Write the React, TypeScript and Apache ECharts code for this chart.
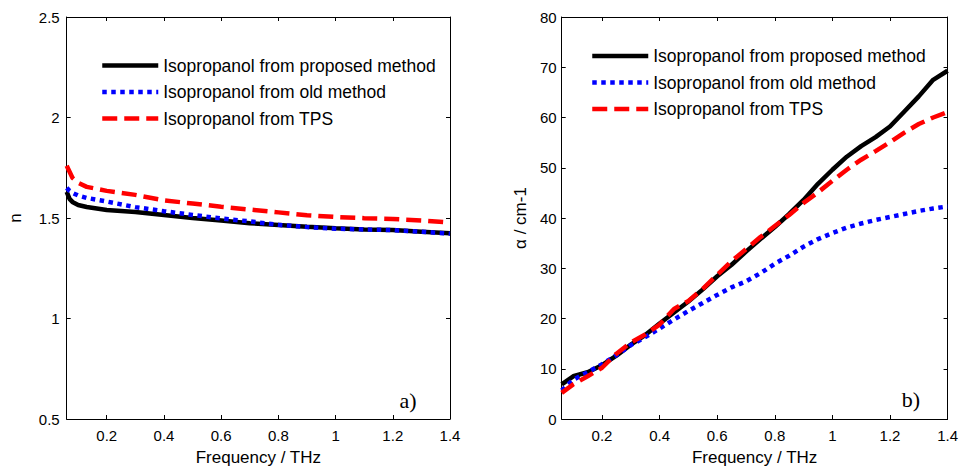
import React, { useEffect, useRef } from "react";
import * as echarts from "echarts";

// ---- data ----
const freqN = [0.06, 0.07, 0.08, 0.1, 0.13, 0.2, 0.3, 0.4, 0.5, 0.6, 0.7, 0.8, 0.9, 1.0, 1.1, 1.2, 1.3, 1.4];
const nProposed = [1.63, 1.595, 1.58, 1.565, 1.555, 1.54, 1.53, 1.515, 1.5, 1.487, 1.474, 1.465, 1.456, 1.449, 1.443, 1.44, 1.432, 1.424];
const nOld = [1.65, 1.635, 1.625, 1.612, 1.6, 1.582, 1.554, 1.534, 1.515, 1.498, 1.483, 1.466, 1.455, 1.447, 1.443, 1.44, 1.432, 1.422];
const nTPS = [1.76, 1.73, 1.7, 1.675, 1.655, 1.635, 1.615, 1.588, 1.572, 1.556, 1.542, 1.528, 1.514, 1.505, 1.499, 1.495, 1.488, 1.478];

const freqA = [0.06, 0.1, 0.15, 0.2, 0.25, 0.3, 0.35, 0.4, 0.45, 0.5, 0.55, 0.6, 0.65, 0.7, 0.75, 0.8, 0.85, 0.9, 0.95, 1.0, 1.05, 1.1, 1.15, 1.2, 1.25, 1.3, 1.35, 1.4];
const aProposed = [6.9, 8.5, 9.3, 10.7, 12.6, 14.8, 16.7, 19.0, 21.2, 23.4, 25.8, 28.4, 30.7, 33.3, 35.8, 38.2, 40.8, 43.6, 46.8, 49.6, 52.2, 54.3, 56.1, 58.2, 61.2, 64.2, 67.5, 69.3];
const aOld = [5.7, 7.8, 9.3, 10.9, 12.7, 14.7, 16.3, 18.0, 19.8, 21.5, 23.1, 24.7, 26.2, 27.4, 29.0, 30.9, 32.5, 34.3, 35.8, 37.0, 38.1, 38.9, 39.6, 40.2, 40.8, 41.4, 41.9, 42.3];
const aTPS = [5.2, 6.9, 8.5, 10.2, 13.0, 15.2, 16.8, 18.8, 21.9, 23.5, 25.9, 28.7, 31.4, 33.8, 36.2, 38.4, 40.6, 43.0, 45.1, 47.4, 49.6, 51.6, 53.3, 55.1, 57.0, 58.7, 60.0, 61.1];

const freqTicks = [0.2, 0.4, 0.6, 0.8, 1, 1.2, 1.4];
const nTicks = [0.5, 1, 1.5, 2, 2.5];
const alphaTicks = [0, 10, 20, 30, 40, 50, 60, 70, 80];
const seriesNames = ["Isopropanol from proposed method", "Isopropanol from old method", "Isopropanol from TPS"];
const panelLabels = ["a)", "b)"];
const xName = "Frequency / THz";
const yNames = ["n", "α / cm-1"];

const FONT = '"Liberation Sans", Arial, Helvetica, sans-serif';
const SERIF = '"Liberation Serif", "Times New Roman", serif';

const lineStyles: any[] = [
  { color: "#000000", width: 4.5, type: "solid", cap: "butt" },
  { color: "#0000ff", width: 4.5, type: [4.5, 4.5], cap: "butt" },
  { color: "#ff0000", width: 4.5, type: [15, 7], cap: "butt" },
];

function pairs(xs: number[], ys: number[]) {
  return xs.map((x, i) => [x, ys[i]]);
}

function xAxis(grid: number, position: string, show: boolean) {
  return {
    type: "value",
    gridIndex: grid,
    position,
    min: 0.06,
    max: 1.4,
    axisLine: { show: true, onZero: false, lineStyle: { color: "#000", width: 1 } },
    axisTick: { show: true, inside: true, length: 4, customValues: freqTicks, lineStyle: { color: "#000", width: 1 } },
    axisLabel: {
      show,
      customValues: freqTicks,
      formatter: (v: number) => String(v),
      color: "#000",
      fontSize: 15,
      fontFamily: FONT,
      margin: 9,
    },
    splitLine: { show: false },
    name: show ? xName : "",
    nameLocation: "middle",
    nameGap: 30,
    nameTextStyle: { color: "#000", fontSize: 17, fontFamily: FONT },
  };
}

function yAxis(grid: number, position: string, show: boolean, ticks: number[], name: string, gap: number, margin: number) {
  return {
    type: "value",
    gridIndex: grid,
    position,
    min: ticks[0],
    max: ticks[ticks.length - 1],
    axisLine: { show: true, onZero: false, lineStyle: { color: "#000", width: 1 } },
    axisTick: { show: true, inside: true, length: 4, customValues: ticks, lineStyle: { color: "#000", width: 1 } },
    axisLabel: {
      show,
      customValues: ticks,
      formatter: (v: number) => String(v),
      color: "#000",
      fontSize: 15,
      fontFamily: FONT,
      margin,
    },
    splitLine: { show: false },
    name: show ? name : "",
    nameLocation: "middle",
    nameGap: gap,
    nameTextStyle: { color: "#000", fontSize: 17, fontFamily: FONT },
  };
}

function makeSeries(xIdx: number, yIdx: number, xs: number[], ys: number[][]) {
  return ys.map((vals, i) => ({
    type: "line",
    name: seriesNames[i],
    xAxisIndex: xIdx,
    yAxisIndex: yIdx,
    data: pairs(xs, vals),
    symbol: "none",
    showSymbol: false,
    smooth: false,
    lineStyle: lineStyles[i],
    itemStyle: { color: lineStyles[i].color },
    z: 2 + i,
  }));
}

function legend(left: number, top: number) {
  return {
    orient: "vertical",
    left,
    top,
    padding: 0,
    itemWidth: 56,
    itemHeight: 14,
    itemGap: 8.5,
    data: seriesNames,
    selectedMode: false,
    itemStyle: { opacity: 0, borderWidth: 0 },
    lineStyle: { width: 4.5 },
    textStyle: { color: "#000", fontSize: 17.5, fontFamily: FONT },
  };
}

export default function App() {
  const ref = useRef<HTMLDivElement>(null);
  useEffect(() => {
    if (!ref.current) return;
    const chart = echarts.init(ref.current, undefined, { renderer: "svg" });
    const option: any = {
      animation: false,
      backgroundColor: "#ffffff",
      grid: [
        { left: 66.7, top: 17, width: 383.3, height: 405 },
        { left: 561.7, top: 17, width: 386.6, height: 405 },
      ],
      xAxis: [xAxis(0, "bottom", true), xAxis(0, "top", false), xAxis(1, "bottom", true), xAxis(1, "top", false)],
      yAxis: [
        yAxis(0, "left", true, nTicks, yNames[0], 43, 7),
        yAxis(0, "right", false, nTicks, "", 0, 7),
        yAxis(1, "left", true, alphaTicks, yNames[1], 33, 5),
        yAxis(1, "right", false, alphaTicks, "", 0, 5),
      ],
      legend: [legend(100, 56.5), legend(590, 47)],
      series: [
        ...makeSeries(0, 0, freqN, [nProposed, nOld, nTPS]),
        ...makeSeries(2, 2, freqA, [aProposed, aOld, aTPS]),
      ],
      graphic: [
        { type: "text", x: 408, y: 400, style: { text: panelLabels[0], fill: "#000", font: `22px ${SERIF}`, textAlign: "center", textVerticalAlign: "middle" } },
        { type: "text", x: 911, y: 399, style: { text: panelLabels[1], fill: "#000", font: `22px ${SERIF}`, textAlign: "center", textVerticalAlign: "middle" } },
      ],
    };
    chart.setOption(option);
    return () => chart.dispose();
  }, []);
  return <div ref={ref} style={{ position: "absolute", left: 0, top: 0, width: 961, height: 471 }} />;
}
